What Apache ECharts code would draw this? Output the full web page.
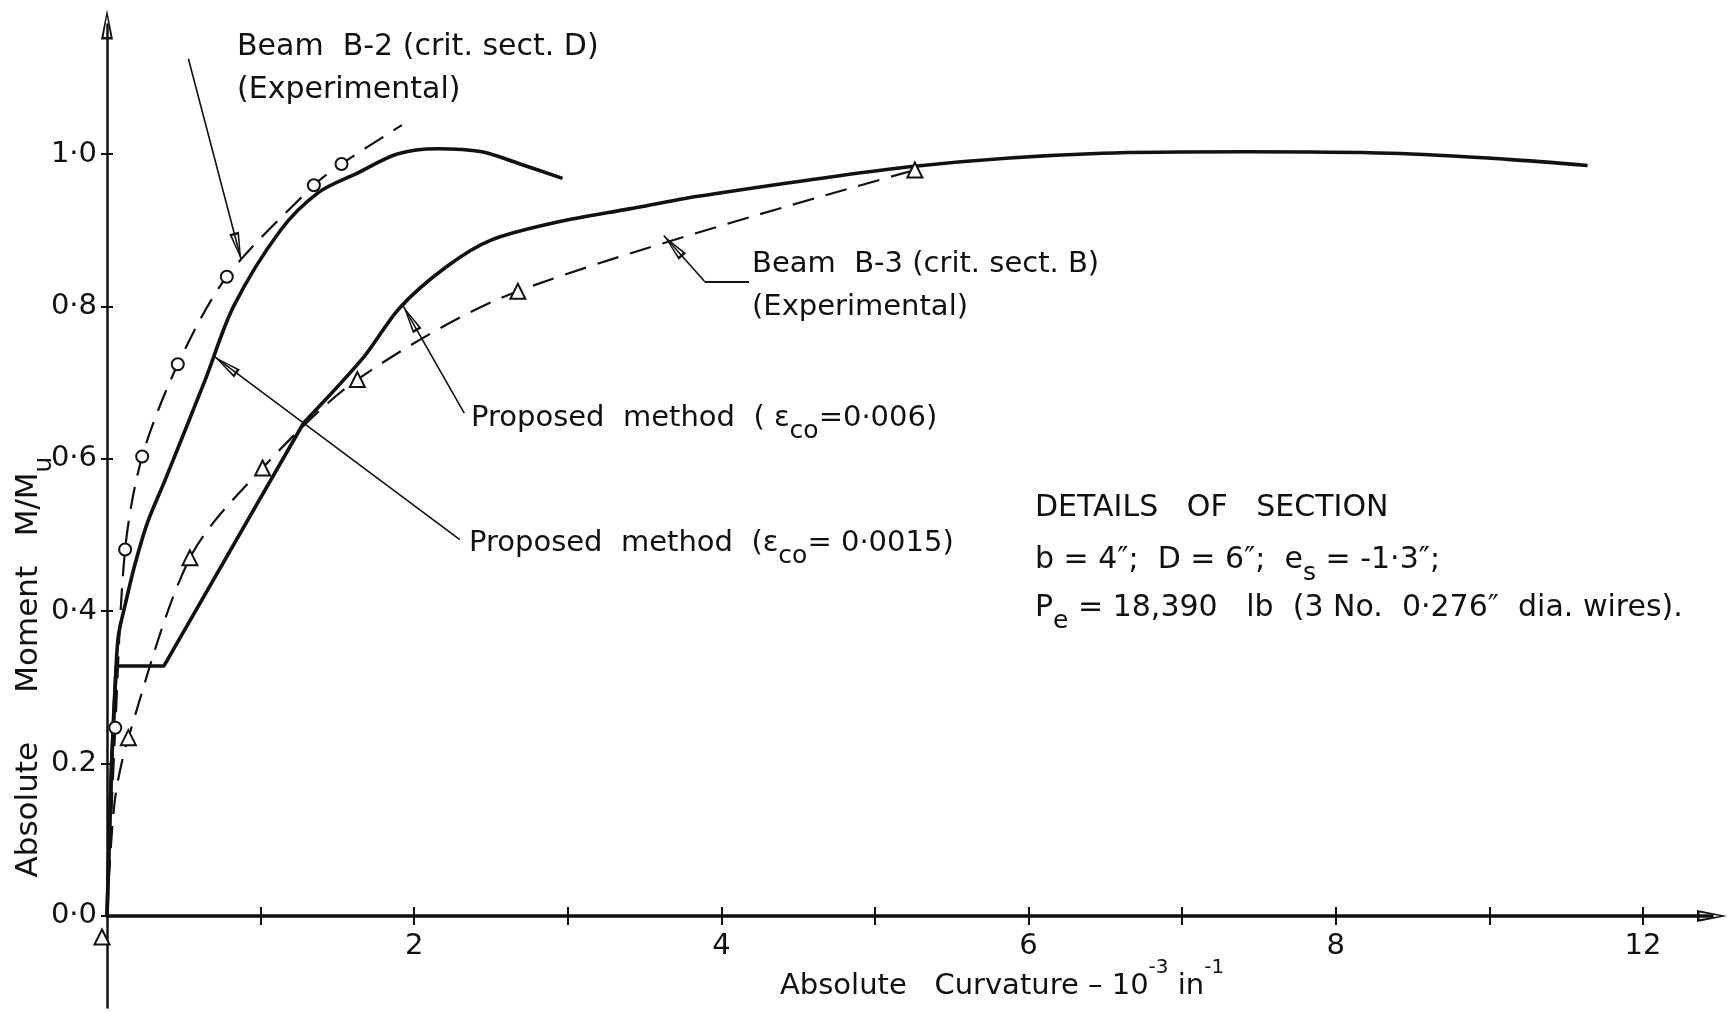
<!DOCTYPE html>
<html>
<head>
<meta charset="utf-8">
<script src="https://cdn.jsdelivr.net/npm/echarts@6/dist/echarts.min.js"></script>
<style>
  html, body { margin: 0; padding: 0; background: #fff; }
  #chart { width: 1727px; height: 1013px; }
</style>
</head>
<body>
<div id="chart"></div>
<script>
// ---- axis ticks and labels ----
const xTickValues = [1, 2, 3, 4, 5, 6, 7, 8, 9, 10];
const xLabelValues = [2, 4, 6, 8, 10];
const xLabelText = ['2', '4', '6', '8', '12'];
const yTickValues = [0, 0.2, 0.4, 0.6, 0.8, 1.0];
const yTickText = ['0·0', '0.2', '0·4', '0·6', '0·8', '1·0'];

// ---- Beam B-2 (crit. sect. D), experimental: dashed, circles at measured points ----
const b2ExpCurvature = [0, 0.054, 0.118, 0.229, 0.461, 0.78, 1.347, 1.527, 1.92];
const b2ExpMoment    = [0, 0.247, 0.481, 0.603, 0.724, 0.839, 0.959, 0.987, 1.038];
const b2ExpMeasured  = [false, true, true, true, true, true, true, true, false];

// ---- Beam B-3 (crit. sect. B), experimental: dashed, triangles at measured points ----
const b3ExpCurvature = [0, 0.05, 0.139, 0.54, 1.013, 1.63, 2.675, 5.26];
const b3ExpMoment    = [0, 0.15, 0.234, 0.47, 0.588, 0.704, 0.82, 0.979];
const b3ExpMeasured  = [true, false, true, true, true, true, true, true];

// ---- Proposed method, eps_co = 0.0015 ----
const pm0015Curvature = [0, 0.03, 0.06, 0.075, 0.12, 0.18, 0.263, 0.38, 0.64, 0.824, 1.13, 1.38, 1.63, 1.89, 2.15, 2.44, 2.675, 2.966];
const pm0015Moment    = [0, 0.2, 0.33, 0.369, 0.41, 0.46, 0.516, 0.573, 0.704, 0.8, 0.9, 0.95, 0.975, 1.0, 1.007, 1.003, 0.988, 0.968];

// ---- Proposed method, eps_co = 0.006 (straight up to the knee, curved beyond) ----
const pm006Curvature = [0, 0.03, 0.06, 0.37, 1.28, 1.67, 1.905, 2.21, 2.5, 2.94, 3.4, 3.86, 5.26, 6.48, 7.42, 8.36, 9.12, 9.64];
const pm006Moment    = [0, 0.2, 0.328, 0.328, 0.647, 0.733, 0.798, 0.852, 0.887, 0.911, 0.928, 0.945, 0.984, 1.001, 1.003, 1.001, 0.993, 0.985];
const pm006KneeIndex = 4;

// ---- leader lines from the labels to the curves (label end -> curve) ----
const leaderB2     = [[0.53, 1.125], [0.874, 0.861]];
const leaderB3     = [[3.89, 0.833], [3.625, 0.893]];
const leaderB3Foot = [[4.18, 0.833], [3.89, 0.833]];
const leader006    = [[2.326, 0.66], [1.93, 0.80]];
const leader0015   = [[2.297, 0.494], [0.70, 0.734]];

const INK = '#111';
const FONT = 'DejaVu Sans';

// open arrowhead, tip at the centre of a square box so it lands on the line end
const LEADER_HEAD = 'path://M0,0M56,56M28,28L33,56L23,56ZM28,34.5L25.2,53.5L30.8,53.5Z';
// open arrowhead at the ends of the axes
const AXIS_HEAD = 'path://M6,0L12,30L0,30ZM6,7L2.6,27.5L9.4,27.5Z';

function pairs(xs, ys) { return xs.map((x, i) => [x, ys[i]]); }
function lookup(values, texts) {
  return function (v) {
    for (let i = 0; i < values.length; i++) {
      if (Math.abs(values[i] - v) < 1e-6) return texts[i];
    }
    return '';
  };
}

const chart = echarts.init(document.getElementById('chart'), null, { renderer: 'canvas' });

// plot area; the curvature axis runs along M = 0, which sits above the bottom edge
const GRID = { left: 107, right: 15, top: 24.5, bottom: 5.6 };
const Y_MIN = -0.12, Y_MAX = 1.17;
const plotHeight = 1013 - GRID.top - GRID.bottom;
const zeroLift = plotHeight * (0 - Y_MIN) / (Y_MAX - Y_MIN);

const tickStyle = { color: INK, width: 2 };
const labelFont = { color: INK, fontFamily: FONT, fontSize: 29 };

const xBase = { type: 'value', min: 0, max: 10.45, position: 'bottom', offset: -zeroLift, splitLine: { show: false } };
const yBase = { type: 'value', min: Y_MIN, max: Y_MAX, position: 'left', splitLine: { show: false } };

const b2Data = b2ExpCurvature.map((x, i) => ({
  value: [x, b2ExpMoment[i]],
  symbol: b2ExpMeasured[i] ? 'emptyCircle' : 'none'
}));
const b3Data = b3ExpCurvature.map((x, i) => {
  const item = { value: [x, b3ExpMoment[i]], symbol: b3ExpMeasured[i] ? 'emptyTriangle' : 'none' };
  if (x === 0 && b3ExpMoment[i] === 0) item.symbolOffset = [-5, 21];
  return item;
});

const pm006 = pairs(pm006Curvature, pm006Moment);

const solid = { color: INK, width: 3.6 };
const dashed = { color: INK, width: 2.2, type: [22, 12] };

// rich text pieces for the annotations
const RICH = {
  m:   { fontFamily: FONT, fontSize: 29, lineHeight: 52, fill: INK, color: INK },
  d:   { fontFamily: FONT, fontSize: 30, lineHeight: 52, fill: INK, color: INK },
  sub: { fontFamily: FONT, fontSize: 25, lineHeight: 24, verticalAlign: 'bottom', fill: INK, color: INK },
  ms:  { fontFamily: FONT, fontSize: 29, lineHeight: 56, fill: INK, color: INK },
  ys:  { fontFamily: FONT, fontSize: 31, lineHeight: 56, fill: INK, color: INK },
  sup: { fontFamily: FONT, fontSize: 20, lineHeight: 20, verticalAlign: 'top', fill: INK, color: INK }
};
function note(x, y, text) {
  return {
    type: 'text', x: x, y: y, silent: true,
    style: {
      text: text, rich: RICH, fill: INK, fontFamily: FONT, fontSize: 29,
      align: 'left', verticalAlign: 'middle', textAlign: 'left', textVerticalAlign: 'middle'
    }
  };
}

const option = {
  animation: false,
  backgroundColor: '#fff',
  grid: Object.assign({ outerBoundsMode: 'none', containLabel: false }, GRID),
  xAxis: [
    Object.assign({}, xBase, {
      axisLine: { show: true, onZero: false, symbol: ['none', AXIS_HEAD], symbolSize: [12, 30], lineStyle: { color: INK, width: 3.5 } },
      axisTick: { show: true, customValues: xTickValues, length: 9, lineStyle: tickStyle },
      axisLabel: Object.assign({ show: true, customValues: xLabelValues, formatter: lookup(xLabelValues, xLabelText), margin: 16 }, labelFont)
    }),
    Object.assign({}, xBase, {
      axisLine: { show: false, onZero: false },
      axisTick: { show: true, inside: true, customValues: xTickValues, length: 9, lineStyle: tickStyle },
      axisLabel: { show: false }
    })
  ],
  yAxis: [
    Object.assign({}, yBase, {
      axisLine: { show: true, onZero: false, symbol: ['none', AXIS_HEAD], symbolSize: [12, 30], lineStyle: { color: INK, width: 2.5 } },
      axisTick: { show: true, customValues: yTickValues, length: 6, lineStyle: tickStyle },
      axisLabel: Object.assign({ show: true, customValues: yTickValues, formatter: lookup(yTickValues, yTickText), margin: 10 }, labelFont)
    }),
    Object.assign({}, yBase, {
      axisLine: { show: false, onZero: false },
      axisTick: { show: true, inside: true, customValues: yTickValues, length: 6, lineStyle: tickStyle },
      axisLabel: { show: false }
    })
  ],
  series: [
    {
      name: 'Beam B-2 experimental', type: 'line', data: b2Data,
      smooth: 0.3, symbolSize: 12, showAllSymbol: true,
      lineStyle: dashed, itemStyle: { color: INK, borderColor: INK, borderWidth: 1.8 }, z: 3
    },
    {
      name: 'Beam B-3 experimental', type: 'line', data: b3Data,
      smooth: 0.3, symbolSize: 15, showAllSymbol: true,
      lineStyle: dashed, itemStyle: { color: INK, borderColor: INK, borderWidth: 1.8 }, z: 3
    },
    {
      name: 'Proposed method 0.0015', type: 'line', data: pairs(pm0015Curvature, pm0015Moment),
      smooth: 0.3, symbol: 'none', lineStyle: solid, z: 2
    },
    {
      name: 'Proposed method 0.006 (linear)', type: 'line', data: pm006.slice(0, pm006KneeIndex + 1),
      smooth: false, symbol: 'none', lineStyle: solid, z: 2
    },
    {
      name: 'Proposed method 0.006', type: 'line', data: pm006.slice(pm006KneeIndex),
      smooth: 0.3, symbol: 'none', lineStyle: solid, z: 2
    },
    {
      name: 'leaders', type: 'lines', coordinateSystem: 'cartesian2d', polyline: false, silent: true,
      symbol: ['none', LEADER_HEAD], symbolSize: [0, 56],
      lineStyle: { color: INK, width: 1.6, opacity: 1, curveness: 0 },
      data: [leaderB2, leaderB3, leader006, leader0015].map(c => ({ coords: c })), z: 4
    },
    {
      name: 'leader foot', type: 'lines', coordinateSystem: 'cartesian2d', polyline: false, silent: true,
      symbol: 'none', lineStyle: { color: INK, width: 2, opacity: 1, curveness: 0 },
      data: [{ coords: leaderB3Foot }], z: 4
    }
  ],
  graphic: [
    note(237, 47, '{d|Beam  B-2 (crit. sect. D)}'),
    note(237, 90, '{d|(Experimental)}'),
    note(752, 264, '{m|Beam  B-3 (crit. sect. B)}'),
    note(752, 307, '{m|(Experimental)}'),
    note(471, 418, '{m|Proposed  method  ( ε}{sub|co}{m|=0·006)}'),
    note(469, 543, '{m|Proposed  method  (ε}{sub|co}{m|= 0·0015)}'),
    note(1035, 508, '{d|DETAILS   OF   SECTION}'),
    note(1035, 560, '{d|b = 4″;  D = 6″;  e}{sub|s}{d| = -1·3″;}'),
    note(1035, 608, '{d|P}{sub|e}{d| = 18,390   lb  (3 No.  0·276″  dia. wires).}'),
    note(780, 986, '{ms|Absolute   Curvature – 10}{sup|-3}{ms| in}{sup|-1}'),
    {
      type: 'text', x: 29, y: 667, rotation: Math.PI / 2, silent: true,
      style: {
        text: '{ys|Absolute     Moment   M/M}{sub|u}', rich: RICH, fill: INK, fontFamily: FONT, fontSize: 31,
        align: 'center', verticalAlign: 'middle', textAlign: 'center', textVerticalAlign: 'middle'
      }
    }
  ]
};

chart.setOption(option);
</script>
</body>
</html>
